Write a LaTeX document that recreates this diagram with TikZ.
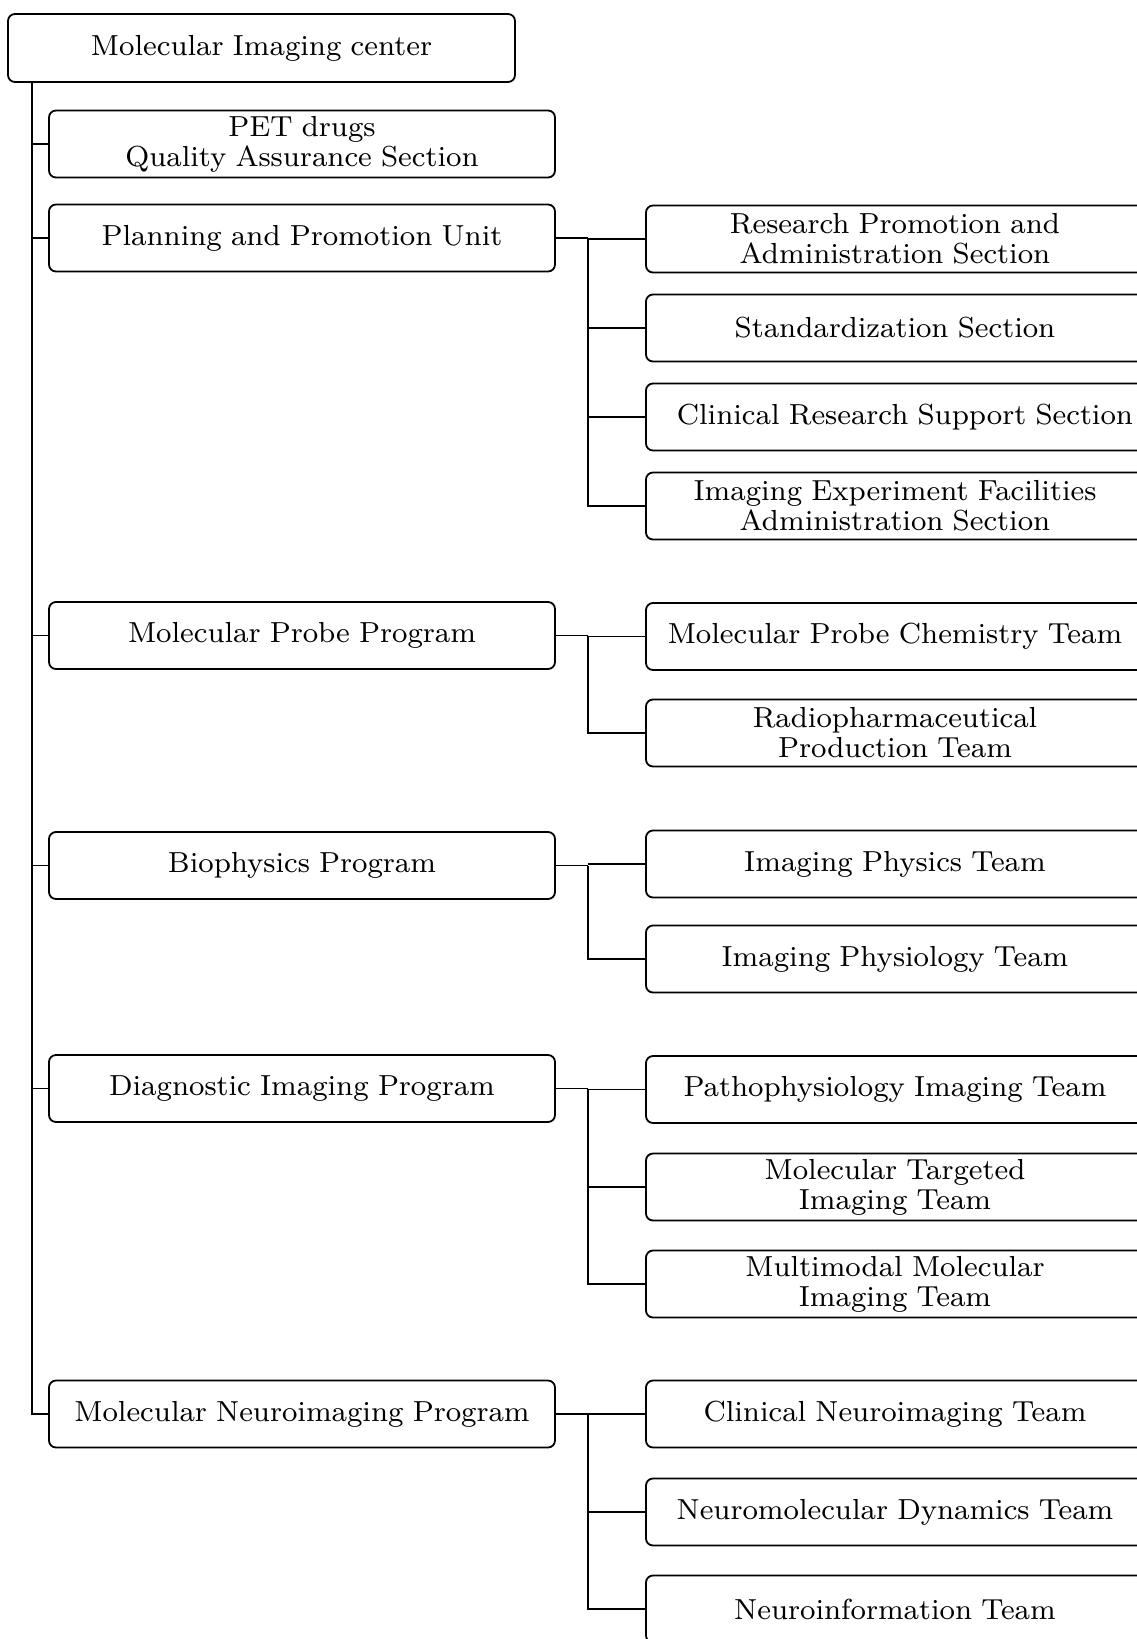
\documentclass[tikz,border=0pt]{standalone}
\usepackage{fontspec}
\setmainfont{lmroman8-regular.otf}[WordSpace=0.9]
\begin{document}
\begin{tikzpicture}[x=1pt,y=1pt,
  box/.style={draw, line width=1.8pt, rounded corners=7pt, align=center, inner sep=0pt,
    font=\fontsize{29}{30}\selectfont},
  topbox/.style={box, minimum width=507pt, minimum height=68pt},
  lbox/.style={box, minimum width=506pt, minimum height=67pt},
  rbox/.style={box, minimum width=498pt, minimum height=67pt},
  conn/.style={line width=1.8pt}]
\useasboundingbox (0,0) rectangle (1137,-1639);
\clip (0,0) rectangle (1137,-1639);
\node[topbox] (top) at (261.5,-48) {Molecular Imaging center};
\node[lbox] (pet) at (302,-144) {PET drugs\\Quality Assurance Section};
\node[lbox] (plan) at (302,-238) {Planning and Promotion Unit};
\node[lbox] (probe) at (302,-635.5) {Molecular Probe Program};
\node[lbox] (bio) at (302,-865.5) {Biophysics Program};
\node[lbox] (diag) at (302,-1088.5) {Diagnostic Imaging Program};
\node[lbox] (neuro) at (302,-1414) {Molecular Neuroimaging Program};
\node[rbox] (rpa) at (895,-239) {Research Promotion and\\Administration Section};
\node[rbox] (std) at (895,-328) {Standardization Section};
\node[rbox] (crs) at (895,-417) {\makebox[0pt]{\hspace*{20pt}Clinical Research Support Section}};
\node[rbox] (iefa) at (895,-506) {Imaging Experiment Facilities\\Administration Section};
\node[rbox] (mpc) at (895,-636.5) {Molecular Probe Chemistry Team};
\node[rbox] (rad) at (895,-733) {Radiopharmaceutical\\Production Team};
\node[rbox] (iphys) at (895,-864) {Imaging Physics Team};
\node[rbox] (iphysio) at (895,-959) {Imaging Physiology Team};
\node[rbox] (patho) at (895,-1089.5) {Pathophysiology Imaging Team};
\node[rbox] (mti) at (895,-1187) {Molecular Targeted\\Imaging Team};
\node[rbox] (mmi) at (895,-1284) {Multimodal Molecular\\Imaging Team};
\node[rbox] (cni) at (895,-1414) {Clinical Neuroimaging Team};
\node[rbox] (ndt) at (895,-1512) {Neuromolecular Dynamics Team};
\node[rbox] (nit) at (895,-1609) {Neuroinformation Team};
\coordinate (sp) at (32,0);
\coordinate (sx) at (588,0);
% main spine
\draw[conn] (top.south -| sp) |- (neuro.west);
\foreach \n in {pet,plan,probe,bio,diag}
  \draw[conn] (sp |- \n.west) -- (\n.west);
% planning
\draw[conn] (plan.east) -- (plan.east -| sx);
\draw[conn] (plan.east -| sx) |- (iefa.west);
\foreach \n in {rpa,std,crs}
  \draw[conn] (sx |- \n.west) -- (\n.west);
% probe
\draw[conn] (probe.east) -- (probe.east -| sx);
\draw[conn] (probe.east -| sx) |- (rad.west);
\draw[conn] (sx |- mpc.west) -- (mpc.west);
% bio
\draw[conn] (bio.east) -- (bio.east -| sx);
\draw[conn] (bio.east -| sx) |- (iphysio.west);
\draw[conn] (sx |- iphys.west) -- (iphys.west);
% diag
\draw[conn] (diag.east) -- (diag.east -| sx);
\draw[conn] (diag.east -| sx) |- (mmi.west);
\foreach \n in {patho,mti}
  \draw[conn] (sx |- \n.west) -- (\n.west);
% neuro
\draw[conn] (neuro.east) -- (neuro.east -| sx);
\draw[conn] (neuro.east -| sx) |- (nit.west);
\foreach \n in {cni,ndt}
  \draw[conn] (sx |- \n.west) -- (\n.west);
\end{tikzpicture}
\end{document}
